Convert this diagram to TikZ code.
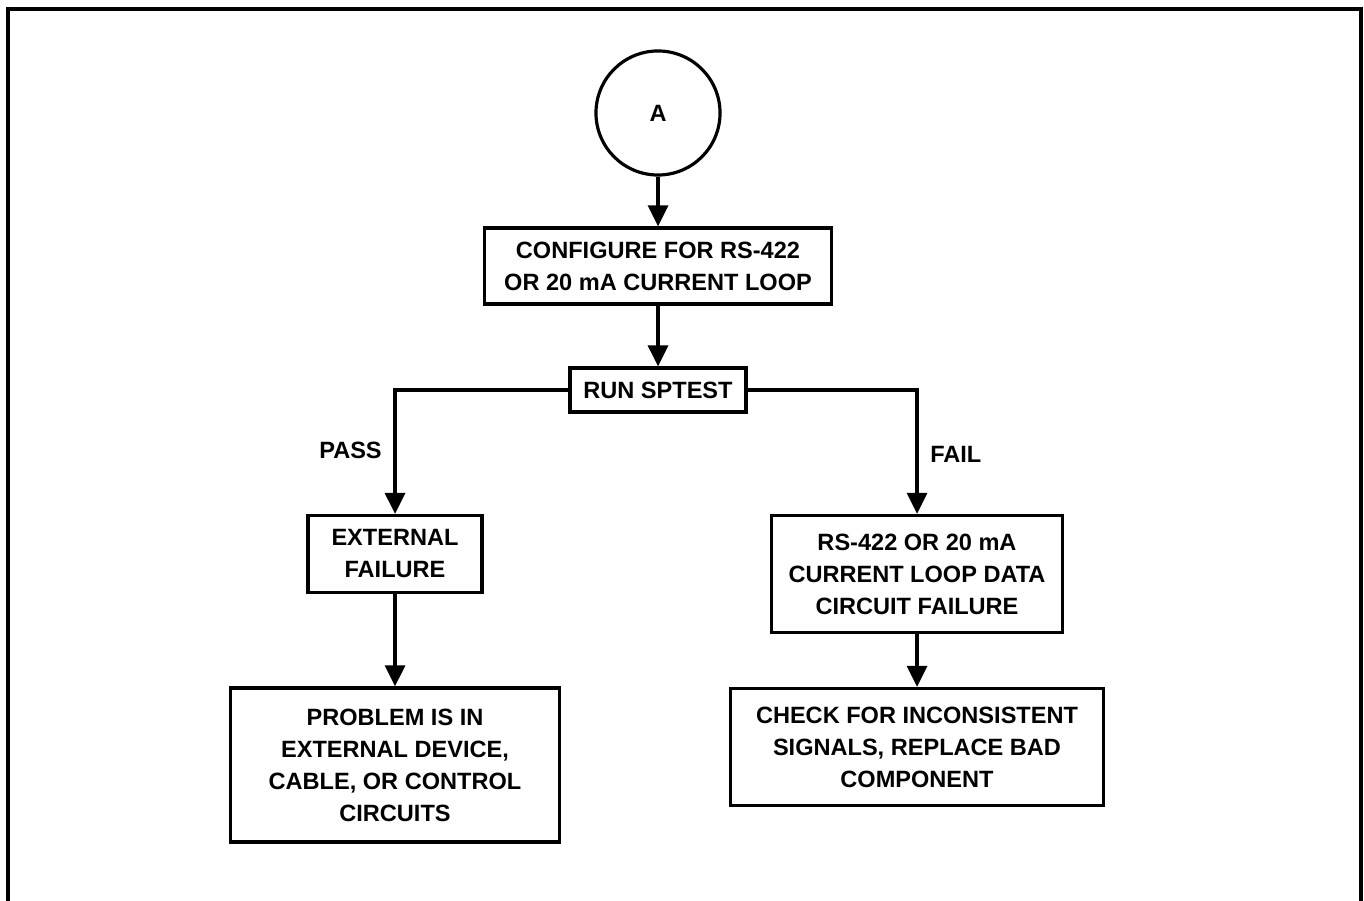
\documentclass[tikz,border=0pt]{standalone}
\usepackage{fontspec}
\setmainfont{Liberation Sans}
\usetikzlibrary{arrows.meta, positioning}

\begin{document}
\begin{tikzpicture}[x=0.01cm, y=-0.01cm, >={Triangle[length=0.21cm, width=0.2cm]},
      every node/.style={font=\fontsize{6.7}{9.1}\selectfont\bfseries},
      box/.style={draw, line width=0.9pt, align=center, inner sep=0pt},
      conn/.style={line width=0.9pt}]
    \useasboundingbox (0,0) rectangle (1364,901);

    % frame (open at the bottom)
    \draw[line width=0.9pt] (8,901) -- (8,9) -- (1361,9) -- (1361,901);

    \node[box, circle, minimum size=1.24cm] (A) at (658,113) {A};
    \node[box, minimum width=3.47cm, minimum height=0.76cm] (cfg) at (658,266)
        {CONFIGURE FOR RS-422\\OR 20 mA CURRENT LOOP};
    \node[box, minimum width=1.76cm, minimum height=0.44cm] (run) at (658,390) {RUN SPTEST};
    \node[box, minimum width=1.74cm, minimum height=0.77cm] (ext) at (395,554) {EXTERNAL\\FAILURE};
    \node[box, minimum width=2.91cm, minimum height=1.17cm] (dat) at (917,574)
        {RS-422 OR 20 mA\\CURRENT LOOP DATA\\CIRCUIT FAILURE};
    \node[box, minimum width=3.28cm, minimum height=1.54cm] (prob) at (395,765)
        {PROBLEM IS IN\\EXTERNAL DEVICE,\\CABLE, OR CONTROL\\CIRCUITS};
    \node[box, minimum width=3.72cm, minimum height=1.17cm] (chk) at (917,747)
        {CHECK FOR INCONSISTENT\\SIGNALS, REPLACE BAD\\COMPONENT};

    \draw[conn, ->] (A) -- (cfg);
    \draw[conn, ->] (cfg) -- (run);
    \draw[conn, ->] (run.west) -| node[pos=0.745, left=0pt] {PASS} (ext);
    \draw[conn, ->] (run.east) -| node[pos=0.76, right=0pt] {FAIL} (dat);
    \draw[conn, ->] (ext) -- (prob);
    \draw[conn, ->] (dat) -- (chk);
  \end{tikzpicture}
\end{document}
